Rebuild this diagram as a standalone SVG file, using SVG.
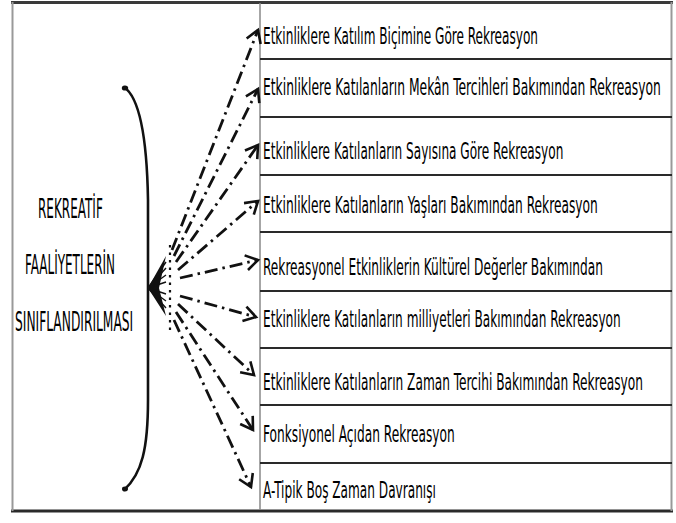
<svg xmlns="http://www.w3.org/2000/svg" width="676" height="523" viewBox="0 0 676 523">
<style>
.t{font-family:"DejaVu Sans Condensed","Liberation Sans",sans-serif;font-size:23px;fill:#000}
.l{font-family:"DejaVu Sans Condensed","Liberation Sans",sans-serif;font-size:27px;fill:#000}
.row{stroke:#2a2a2a;stroke-width:2.2}
.con{fill:none;stroke:#111;stroke-width:2.8;stroke-dasharray:13 5 2.5 5}
</style>
<defs>
<marker id="ah" markerUnits="userSpaceOnUse" markerWidth="16" markerHeight="18" refX="13" refY="9" orient="auto">
<path d="M1,1.5 L13,9 L1,16.5" fill="none" stroke="#111" stroke-width="2.6" stroke-linejoin="miter"/>
</marker>
</defs>
<rect width="676" height="523" fill="#fff"/>
<g id="frame">
<line x1="11" y1="2.5" x2="673" y2="2.5" stroke="#3a3a3a" stroke-width="3"/>
<line x1="11" y1="511" x2="673" y2="511" stroke="#2a2a2a" stroke-width="3"/>
<line x1="12.5" y1="2" x2="12.5" y2="511" stroke="#999" stroke-width="2"/>
<line x1="671.5" y1="2" x2="671.5" y2="511" stroke="#999" stroke-width="2"/>
<line x1="260" y1="3" x2="260" y2="510" stroke="#888" stroke-width="1.5"/>
</g>
<g id="root">
<text class="l" transform="translate(38,218) scale(0.6,1)" textLength="108" lengthAdjust="spacingAndGlyphs">REKREATİF</text>
<text class="l" transform="translate(25,274) scale(0.6,1)" textLength="150" lengthAdjust="spacingAndGlyphs">FAALİYETLERİN</text>
<text class="l" transform="translate(15,331) scale(0.6,1)" textLength="197" lengthAdjust="spacingAndGlyphs">SINIFLANDIRILMASI</text>
</g>
<g id="bracket">
<path d="M124,87 C140,98 147,140 148,200 L148,400 C148,448 142,474 124,490" fill="none" stroke="#111" stroke-width="2.6" stroke-linecap="round"/>
<ellipse cx="125" cy="88" rx="3.2" ry="2.6" fill="#111"/>
<ellipse cx="125" cy="489" rx="3" ry="2.4" fill="#111"/>
</g>
<g id="n1"><line class="row" x1="260" y1="59" x2="672" y2="59"/><text class="t" transform="translate(263,44) scale(0.65,1)" textLength="423" lengthAdjust="spacingAndGlyphs">Etkinliklere Katılım Biçimine Göre Rekreasyon</text></g>
<g id="n2"><line class="row" x1="260" y1="117" x2="672" y2="117"/><text class="t" transform="translate(263,95) scale(0.58,1)" textLength="686" lengthAdjust="spacingAndGlyphs">Etkinliklere Katılanların Mekân Tercihleri Bakımından Rekreasyon</text></g>
<g id="n3"><line class="row" x1="260" y1="175" x2="672" y2="175"/><text class="t" transform="translate(263,159) scale(0.65,1)" textLength="462" lengthAdjust="spacingAndGlyphs">Etkinliklere Katılanların Sayısına Göre Rekreasyon</text></g>
<g id="n4"><line class="row" x1="260" y1="232" x2="672" y2="232"/><text class="t" transform="translate(263,213) scale(0.65,1)" textLength="515" lengthAdjust="spacingAndGlyphs">Etkinliklere Katılanların Yaşları Bakımından Rekreasyon</text></g>
<g id="n5"><line class="row" x1="260" y1="291" x2="672" y2="291"/><text class="t" transform="translate(263,275) scale(0.65,1)" textLength="523" lengthAdjust="spacingAndGlyphs">Rekreasyonel Etkinliklerin Kültürel Değerler Bakımından</text></g>
<g id="n6"><line class="row" x1="260" y1="348" x2="672" y2="348"/><text class="t" transform="translate(263,327) scale(0.62,1)" textLength="577" lengthAdjust="spacingAndGlyphs">Etkinliklere Katılanların milliyetleri Bakımından Rekreasyon</text></g>
<g id="n7"><line class="row" x1="260" y1="405" x2="672" y2="405"/><text class="t" transform="translate(263,390) scale(0.58,1)" textLength="655" lengthAdjust="spacingAndGlyphs">Etkinliklere Katılanların Zaman Tercihi Bakımından Rekreasyon</text></g>
<g id="n8"><line class="row" x1="260" y1="463" x2="672" y2="463"/><text class="t" transform="translate(263,442) scale(0.65,1)" textLength="295" lengthAdjust="spacingAndGlyphs">Fonksiyonel Açıdan Rekreasyon</text></g>
<g id="n9"><text class="t" transform="translate(263,498) scale(0.65,1)" textLength="266" lengthAdjust="spacingAndGlyphs">A-Tipik Boş Zaman Davranışı</text></g>
<g id="connectors">
<path d="M148,288 L166,256 L159,288 L166,316 Z" fill="#111"/>
<path d="M148,288 L166,262 M148,288 L166,268 M148,288 L166,275 M148,288 L166,282 M148,288 L166,294 M148,288 L166,301 M148,288 L166,308" stroke="#111" stroke-width="1.4"/>
<line x1="170" y1="245" x2="170" y2="330" stroke="#111" stroke-width="2.2" stroke-dasharray="2.5 5"/>
<line class="con" x1="172" y1="250" x2="258" y2="30" marker-end="url(#ah)"/>
<line class="con" x1="174" y1="256" x2="258" y2="89" marker-end="url(#ah)"/>
<line class="con" x1="176" y1="262" x2="258" y2="145" marker-end="url(#ah)"/>
<line class="con" x1="178" y1="270" x2="258" y2="201" marker-end="url(#ah)"/>
<line class="con" x1="180" y1="278" x2="258" y2="260" marker-end="url(#ah)"/>
<line class="con" x1="180" y1="296" x2="256" y2="317" marker-end="url(#ah)"/>
<line class="con" x1="178" y1="304" x2="254" y2="375" marker-end="url(#ah)"/>
<line class="con" x1="176" y1="312" x2="253" y2="430" marker-end="url(#ah)"/>
<line class="con" x1="174" y1="320" x2="251" y2="487" marker-end="url(#ah)"/>
</g>
</svg>
